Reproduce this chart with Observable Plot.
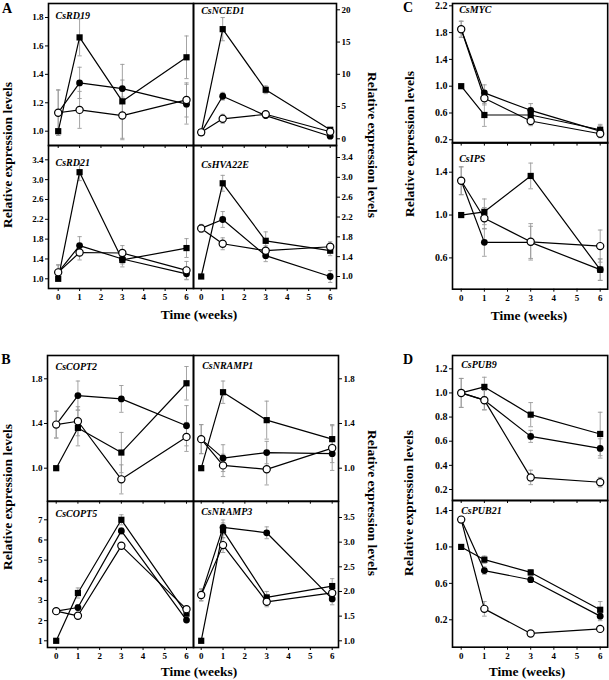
<!DOCTYPE html>
<html><head><meta charset="utf-8">
<script src="https://cdn.jsdelivr.net/npm/d3@7"></script>
<script src="https://cdn.jsdelivr.net/npm/@observablehq/plot@0.6"></script>
<style>
body{margin:0;background:#fff;}
#fig{position:relative;width:609px;height:680px;overflow:hidden;background:#fff;font-family:"Liberation Serif","Times New Roman",serif;color:#000;}
.pw{position:absolute;}
.pw svg{overflow:visible;max-width:none !important;display:block;}
.lbl{position:absolute;font-weight:bold;white-space:nowrap;line-height:1;}
</style></head><body><div id="fig"></div>
<script>
// ---------------- data ----------------
const weeks = [0, 1, 3, 6];
const xTicks = [0, 1, 2, 3, 4, 5, 6];
const seriesNames = ["filled square", "filled circle", "open circle"];
const genes = ["CsRD19","CsNCED1","CsRD21","CsHVA22E","CsMYC","CsIPS","CsCOPT2","CsNRAMP1","CsCOPT5","CsNRAMP3","CsPUB9","CsPUB21"];

const squareMean = [
  [1.00, 1.66, 1.21, 1.52],
  [1.0, 17.0, 7.6, 1.4],
  [1.00, 3.15, 1.38, 1.62],
  [1.00, 2.88, 1.72, 1.52],
  [1.00, 0.57, 0.57, 0.35],
  [1.00, 1.03, 1.365, 0.49],
  [1.00, 1.36, 1.14, 1.76],
  [1.00, 1.68, 1.43, 1.26],
  [1.0, 3.37, 7.0, 2.35],
  [1.00, 3.24, 1.88, 2.11],
  [1.00, 1.05, 0.82, 0.66],
  [1.00, 0.86, 0.72, 0.31]
];
const filledCircleMean = [
  [1.13, 1.34, 1.30, 1.19],
  [1.0, 6.6, 3.6, 0.4],
  [1.13, 1.67, 1.40, 1.10],
  [1.97, 2.15, 1.42, 1.00],
  [1.85, 0.90, 0.64, 0.33],
  [1.32, 0.745, 0.745, 0.49],
  [1.39, 1.65, 1.62, 1.38],
  [1.26, 1.09, 1.14, 1.13],
  [2.47, 2.65, 6.45, 2.03],
  [1.93, 3.30, 3.19, 1.85],
  [1.00, 0.94, 0.64, 0.54],
  [1.30, 0.74, 0.64, 0.24]
];
const openCircleMean = [
  [1.13, 1.15, 1.11, 1.22],
  [1.0, 3.1, 3.8, 1.1],
  [1.13, 1.53, 1.52, 1.17],
  [1.97, 1.66, 1.52, 1.60],
  [1.85, 0.82, 0.48, 0.29],
  [1.32, 0.97, 0.75, 0.71],
  [1.39, 1.42, 0.90, 1.28],
  [1.26, 1.025, 0.99, 1.18],
  [2.47, 2.24, 5.71, 2.57],
  [1.93, 2.94, 1.79, 1.97],
  [1.00, 0.94, 0.30, 0.26],
  [1.30, 0.32, 0.05, 0.10]
];
const squareErr = [
  [0, 0.13, 0.26, 0.15],
  [0, 1.8, 0.6, 0.3],
  [0, 0.17, 0.14, 0.19],
  [0, 0.16, 0.18, 0.10],
  [0, 0.17, 0.10, 0.08],
  [0, 0.12, 0.12, 0.10],
  [0, 0.16, 0.18, 0.15],
  [0, 0.10, 0.17, 0.13],
  [0, 0.25, 0.25, 0.15],
  [0, 0.15, 0.12, 0.15],
  [0, 0.08, 0.10, 0.18],
  [0, 0.04, 0.03, 0.09]
];
const filledCircleErr = [
  [0.16, 0.11, 0.06, 0.14],
  [0, 0.6, 0.3, 0.2],
  [0.15, 0.18, 0.10, 0.12],
  [0.08, 0.16, 0.12, 0.12],
  [0.12, 0.12, 0.10, 0.08],
  [0.13, 0.13, 0.15, 0.10],
  [0.12, 0.13, 0.12, 0.18],
  [0.13, 0.12, 0.10, 0.08],
  [0.10, 0.15, 0.15, 0.10],
  [0.12, 0.15, 0.12, 0.12],
  [0.12, 0.08, 0.05, 0.08],
  [0.03, 0.04, 0.03, 0.05]
];
const openCircleErr = [
  [0.16, 0.13, 0.17, 0.12],
  [0, 0.7, 0.5, 0.2],
  [0.15, 0.15, 0.15, 0.18],
  [0.08, 0.12, 0.10, 0.10],
  [0.12, 0.10, 0.07, 0.06],
  [0.13, 0.10, 0.17, 0.15],
  [0.12, 0.13, 0.13, 0.13],
  [0.13, 0.10, 0.14, 0.20],
  [0.10, 0.10, 0.15, 0.10],
  [0.12, 0.15, 0.10, 0.10],
  [0.12, 0.08, 0.06, 0.04],
  [0.03, 0.08, 0.02, 0.02]
];
const yTickValues = [
  [1.0, 1.2, 1.4, 1.6, 1.8],
  [0, 5, 10, 15, 20],
  [1.0, 1.4, 1.8, 2.2, 2.6, 3.0, 3.4],
  [1.0, 1.4, 1.8, 2.2, 2.6, 3.0, 3.4],
  [0.2, 0.6, 1.0, 1.4, 1.8, 2.2],
  [0.6, 1.0, 1.4],
  [1.0, 1.4, 1.8],
  [1.0, 1.4, 1.8],
  [1, 2, 3, 4, 5, 6, 7],
  [1.0, 1.5, 2.0, 2.5, 3.0, 3.5],
  [0.2, 0.4, 0.6, 0.8, 1.0, 1.2],
  [0.2, 0.6, 1.0, 1.4]
];
const yTickFormat = [".1f","d",".1f",".1f",".1f",".1f",".1f",".1f","d",".1f",".1f",".1f"];
const yTitle = "Relative expression levels";
const xTitle = "Time (weeks)";
const panelLetters = ["A", "B", "C", "D"];

// ---------------- layout (page pixels) ----------------
const layout = [
  {frame:[48,193,3,145],     xPix:[57.7,186],  yRef:[[1.0,130.7],[1.8,17]],    side:"left",  bottom:false, lab:[55,15],     fs:9},
  {frame:[193,336,3,145],    xPix:[200.7,329.7], yRef:[[0,138.3],[20,9.3]],    side:"right", bottom:false, lab:[200.7,10],  fs:9},
  {frame:[48,193,145,288],   xPix:[57.7,186],  yRef:[[1.0,278.3],[3.4,159.3]], side:"left",  bottom:true,  lab:[55,162.7],  fs:9},
  {frame:[193,336,145,288],  xPix:[200.7,329.7], yRef:[[1.0,276],[3.4,157]],   side:"right", bottom:true,  lab:[200.7,164], fs:9},
  {frame:[452.3,607.5,2.7,142.3], xPix:[461,600], yRef:[[0.2,139],[2.2,5]],    side:"left",  bottom:false, lab:[459,9.3],   fs:10},
  {frame:[452.3,607.5,142.3,289], xPix:[461,600], yRef:[[0.6,257.7],[1.4,172]],side:"left",  bottom:true,  lab:[459,159],   fs:10},
  {frame:[47,193,355,500.7], xPix:[55.7,186],  yRef:[[1.0,467.7],[1.8,378.3]], side:"left",  bottom:false, lab:[55,366.7],  fs:9},
  {frame:[193,338,355,500.7],xPix:[200.7,331.7], yRef:[[1.0,467.7],[1.8,378.3]], side:"right", bottom:false, lab:[201.7,365], fs:9},
  {frame:[47,193,500.7,646.7], xPix:[55.7,186], yRef:[[1,640],[7,519]],        side:"left",  bottom:true,  lab:[55,513.3],  fs:9},
  {frame:[193,338,500.7,646.7],xPix:[200.7,331.7], yRef:[[1.0,640],[3.5,516.7]], side:"right", bottom:true, lab:[200.7,511], fs:9},
  {frame:[452.3,607.5,355,500], xPix:[461,600], yRef:[[0.2,489],[1.2,368.3]],  side:"left",  bottom:false, lab:[461,364.3], fs:10},
  {frame:[452.3,607.5,500,646.7], xPix:[461,600], yRef:[[0.2,619.3],[1.4,510]],side:"left",  bottom:true,  lab:[461,510],   fs:10}
];
const titles = [
  {text:yTitle, x:8,   y:155,   rot:-90},
  {text:yTitle, x:372, y:145,   rot:90},
  {text:yTitle, x:8,   y:497,   rot:-90},
  {text:yTitle, x:372, y:503,   rot:90},
  {text:yTitle, x:410, y:144,   rot:-90},
  {text:yTitle, x:409, y:503,   rot:-90},
  {text:xTitle, x:199, y:315,   rot:0},
  {text:xTitle, x:199, y:671.5, rot:0},
  {text:xTitle, x:529, y:315.5, rot:0},
  {text:xTitle, x:527, y:671.5, rot:0}
];
const letterPos = [[7,9],[6,360],[408,8],[408,360]];

// ---------------- drawing ----------------
const fig = document.getElementById("fig");
const M = {l: 40, r: 40, t: 12, b: 26};
const means = [squareMean, filledCircleMean, openCircleMean];
const errs = [squareErr, filledCircleErr, openCircleErr];
const serif = "'Liberation Serif', 'Times New Roman', Times, serif";

layout.forEach((L, i) => {
  const [fx0, fx1, fy0, fy1] = L.frame;
  const W = fx1 - fx0 + M.l + M.r, H = fy1 - fy0 + M.t + M.b;
  const ox = fx0 - M.l, oy = fy0 - M.t;
  const rows = [];
  seriesNames.forEach((s, k) => weeks.forEach((t, j) =>
    rows.push({series: s, t, v: means[k][i][j], e: errs[k][i][j]})));
  const withErr = rows.filter(d => d.e > 0);
  const cap = 0.1;
  const [[va, pa], [vb, pb]] = L.yRef;
  const gray = "#9a9a9a";
  const plot = Plot.plot({
    width: W, height: H,
    marginLeft: M.l, marginRight: M.r, marginTop: M.t, marginBottom: M.b,
    x: {domain: [0, 6], range: [L.xPix[0] - ox, L.xPix[1] - ox]},
    y: {domain: [va, vb], range: [pa - oy, pb - oy]},
    style: {background: "none", fontFamily: serif, fontSize: L.fs + "px", fontWeight: "bold", overflow: "visible", maxWidth: "none"},
    marks: [
      Plot.ruleX(withErr, {x: "t", y1: d => d.v - d.e, y2: d => d.v + d.e, stroke: gray, strokeWidth: 0.9}),
      Plot.link(withErr, {x1: d => d.t - cap, x2: d => d.t + cap, y1: d => d.v + d.e, y2: d => d.v + d.e, stroke: gray, strokeWidth: 0.9}),
      Plot.link(withErr, {x1: d => d.t - cap, x2: d => d.t + cap, y1: d => d.v - d.e, y2: d => d.v - d.e, stroke: gray, strokeWidth: 0.9}),
      Plot.line(rows, {x: "t", y: "v", z: "series", stroke: "black", strokeWidth: 1.2}),
      Plot.dot(rows.filter(d => d.series === seriesNames[0]), {x: "t", y: "v", symbol: "square", fill: "black", r: 3.5}),
      Plot.dot(rows.filter(d => d.series === seriesNames[1]), {x: "t", y: "v", symbol: "circle", fill: "black", r: 3.4}),
      Plot.dot(rows.filter(d => d.series === seriesNames[2]), {x: "t", y: "v", symbol: "circle", fill: "white", stroke: "black", strokeWidth: 1.2, r: 3.6}),
      Plot.frame({stroke: "black", strokeWidth: 1.6}),
      Plot.axisY({anchor: L.side, ticks: yTickValues[i], tickFormat: d3.format(yTickFormat[i]), tickSize: 3, tickPadding: 2, label: null, fontSize: L.fs, fontWeight: "bold", fontFamily: serif}),
      Plot.axisX({anchor: "bottom", ticks: xTicks, tickSize: 3, tickPadding: 2, label: null, fontSize: 9, fontWeight: "bold", fontFamily: serif,
        tickFormat: L.bottom ? (d => String(d)) : (() => "")}),
      Plot.text([genes[i]], {text: d => d, frameAnchor: "top-left", dx: L.lab[0] - fx0, dy: L.lab[1] - fy0,
        textAnchor: "start", lineAnchor: "middle", fontStyle: "italic", fontWeight: "bold", fontSize: 10, fontFamily: serif})
    ]
  });
  const wrap = document.createElement("div");
  wrap.className = "pw";
  wrap.style.left = ox + "px";
  wrap.style.top = oy + "px";
  wrap.style.width = W + "px";
  wrap.style.height = H + "px";
  wrap.appendChild(plot);
  fig.appendChild(wrap);
});

titles.forEach(T => {
  const d = document.createElement("div");
  d.className = "lbl";
  d.textContent = T.text;
  d.style.fontSize = "13.5px";
  d.style.left = T.x + "px";
  d.style.top = T.y + "px";
  d.style.transform = `translate(-50%,-50%) rotate(${T.rot}deg)`;
  fig.appendChild(d);
});
panelLetters.forEach((p, k) => {
  const d = document.createElement("div");
  d.className = "lbl";
  d.textContent = p;
  d.style.fontSize = "14px";
  d.style.left = letterPos[k][0] + "px";
  d.style.top = letterPos[k][1] + "px";
  d.style.transform = "translate(-50%,-50%)";
  fig.appendChild(d);
});
</script></body></html>
